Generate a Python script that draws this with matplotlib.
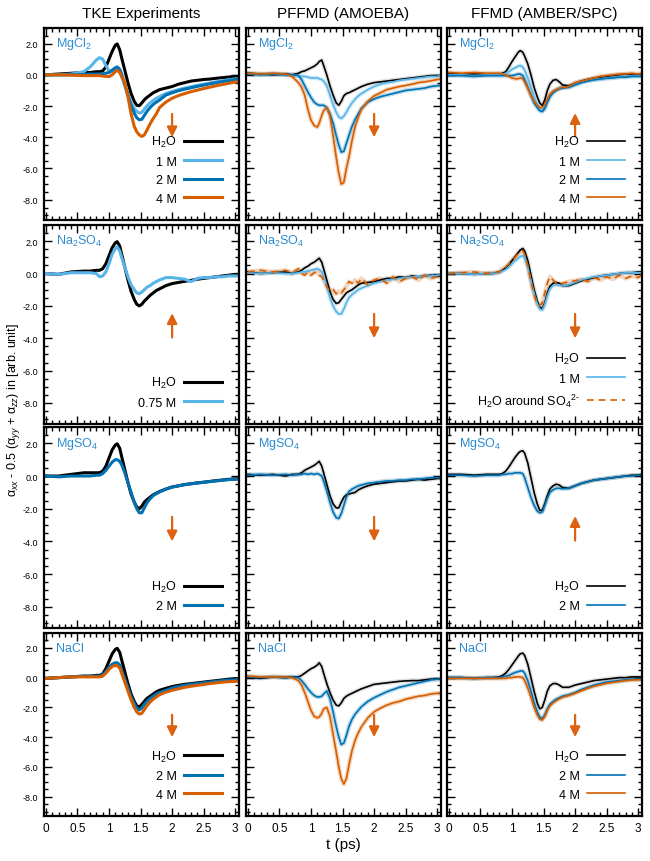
import numpy as np
import matplotlib
matplotlib.use("Agg")
import matplotlib.pyplot as plt
from matplotlib.ticker import MultipleLocator, FixedLocator, FixedFormatter, FormatStrFormatter

plt.rcParams['font.family'] = ['Liberation Sans', 'DejaVu Sans']
plt.rcParams['mathtext.fontset'] = 'custom'
plt.rcParams['mathtext.rm'] = 'Liberation Sans'
plt.rcParams['mathtext.it'] = 'Liberation Sans:italic'
plt.rcParams['mathtext.bf'] = 'Liberation Sans:bold'
plt.rcParams['axes.unicode_minus'] = False

# ---------------- data ----------------
T = [0.0, 0.2, 0.4, 0.6, 0.7, 0.8, 0.85, 0.9, 0.95, 1.0, 1.05, 1.1, 1.13, 1.17, 1.2,
     1.25, 1.3, 1.35, 1.4, 1.44, 1.48, 1.52, 1.56, 1.6, 1.65, 1.7, 1.75, 1.8, 1.9, 2.0,
     2.1, 2.2, 2.3, 2.4, 2.5, 2.6, 2.7, 2.8, 2.9, 3.0, 3.05]

col_titles = ["TKE Experiments", "PFFMD (AMOEBA)", "FFMD (AMBER/SPC)"]
salts = ["MgCl$_2$", "Na$_2$SO$_4$", "MgSO$_4$", "NaCl"]

# Row 1: MgCl2
mgcl2_tke_h2o = [0.0, 0.05, 0.1, 0.15, 0.15, 0.2, 0.2, 0.25, 0.5, 1.0, 1.5, 1.9, 1.98, 1.6, 1.1,
                 0.3, -0.5, -1.2, -1.7, -1.95, -1.98, -1.8, -1.6, -1.45, -1.3, -1.15, -1.05, -0.95, -0.85, -0.75,
                 -0.6, -0.5, -0.4, -0.35, -0.3, -0.27, -0.22, -0.18, -0.14, -0.1, -0.1]
mgcl2_tke_1m = [0.0, 0.0, 0.05, 0.2, 0.5, 0.95, 1.1, 1.0, 0.6, 0.25, 0.2, 0.4, 0.5, 0.3, -0.1,
                -0.7, -1.3, -1.8, -2.15, -2.35, -2.45, -2.4, -2.2, -2.0, -1.8, -1.65, -1.5, -1.4, -1.2, -1.07,
                -0.95, -0.85, -0.76, -0.68, -0.6, -0.52, -0.45, -0.38, -0.32, -0.26, -0.25]
mgcl2_tke_2m = [0.0, 0.0, 0.0, 0.02, 0.05, 0.05, 0.05, 0.08, 0.1, 0.15, 0.3, 0.45, 0.5, 0.35, 0.05,
                -0.6, -1.3, -1.95, -2.45, -2.75, -2.88, -2.85, -2.6, -2.35, -2.1, -1.9, -1.75, -1.62, -1.3, -1.15,
                -1.02, -0.92, -0.83, -0.74, -0.66, -0.58, -0.5, -0.43, -0.37, -0.3, -0.28]
mgcl2_tke_4m = [0.0, 0.0, -0.02, -0.05, -0.05, -0.05, -0.05, -0.08, -0.1, -0.12, 0.0, 0.2, 0.3, 0.15, -0.1,
                -0.5, -1.4, -2.5, -3.3, -3.65, -3.85, -3.95, -3.85, -3.55, -3.15, -2.8, -2.5, -2.1, -1.75, -1.5,
                -1.33, -1.2, -1.08, -0.98, -0.88, -0.79, -0.7, -0.62, -0.54, -0.46, -0.44]

mgcl2_pf_h2o = [0.1, 0.05, 0.0, 0.05, 0.0, 0.1, 0.2, 0.25, 0.35, 0.45, 0.55, 0.7, 0.85, 0.95, 0.6,
                0.0, -0.7, -1.3, -1.8, -1.95, -1.7, -1.35, -1.2, -1.15, -1.05, -0.95, -0.85, -0.75, -0.6, -0.5,
                -0.45, -0.4, -0.35, -0.3, -0.25, -0.2, -0.15, -0.1, -0.05, -0.05, -0.05]
mgcl2_pf_1m = [0.05, 0.0, 0.05, 0.0, 0.0, -0.05, -0.1, -0.1, -0.15, -0.2, -0.2, -0.2, -0.25, -0.3, -0.4,
               -0.7, -1.3, -1.9, -2.4, -2.7, -2.8, -2.65, -2.4, -2.1, -1.8, -1.55, -1.35, -1.2, -0.95, -0.75,
               -0.6, -0.5, -0.45, -0.35, -0.3, -0.25, -0.2, -0.15, -0.1, -0.1, -0.05]
mgcl2_pf_2m = [0.05, 0.0, 0.05, 0.0, 0.0, -0.05, -0.3, -0.7, -1.1, -1.45, -1.75, -1.9, -1.95, -1.95, -1.95,
               -2.1, -2.5, -3.1, -3.9, -4.5, -4.95, -4.9, -4.4, -3.9, -3.3, -2.85, -2.5, -2.15, -1.75, -1.55,
               -1.4, -1.3, -1.2, -1.1, -1.0, -0.95, -0.9, -0.85, -0.75, -0.7, -0.68]
mgcl2_pf_4m = [0.1, 0.05, 0.1, 0.05, -0.1, -0.5, -0.8, -1.3, -2.2, -2.9, -3.25, -3.35, -3.1, -2.6, -2.3,
               -2.1, -2.6, -3.9, -5.3, -6.3, -7.0, -6.9, -6.0, -5.3, -4.2, -3.3, -2.7, -2.2, -1.7, -1.35,
               -1.15, -0.95, -0.85, -0.75, -0.68, -0.6, -0.5, -0.45, -0.38, -0.3, -0.28]

mgcl2_ff_h2o = [0.1, 0.05, 0.05, 0.05, 0.05, 0.05, 0.1, 0.2, 0.5, 0.85, 1.15, 1.45, 1.55, 1.45, 1.2,
                0.7, 0.0, -0.8, -1.4, -1.8, -1.97, -1.6, -1.0, -0.6, -0.35, -0.3, -0.45, -0.65, -0.7, -0.55,
                -0.4, -0.3, -0.2, -0.15, -0.1, -0.05, 0.0, 0.05, 0.0, 0.0, 0.0]
mgcl2_ff_1m = [0.0, 0.0, -0.05, 0.0, 0.0, 0.0, 0.05, 0.1, 0.2, 0.35, 0.45, 0.55, 0.6, 0.5, 0.3,
               -0.2, -0.8, -1.4, -1.9, -2.2, -2.3, -2.1, -1.7, -1.35, -1.1, -0.95, -0.85, -0.8, -0.75, -0.6,
               -0.45, -0.35, -0.3, -0.25, -0.2, -0.15, -0.1, -0.1, -0.05, -0.05, -0.05]
mgcl2_ff_2m = [-0.05, -0.05, -0.1, -0.05, -0.05, -0.05, -0.05, -0.05, -0.05, -0.05, 0.0, 0.05, 0.05, -0.05, -0.3,
               -0.8, -1.3, -1.8, -2.1, -2.3, -2.35, -2.15, -1.75, -1.4, -1.15, -1.0, -0.9, -0.85, -0.8, -0.65,
               -0.5, -0.4, -0.32, -0.27, -0.22, -0.2, -0.15, -0.15, -0.1, -0.1, -0.1]
mgcl2_ff_4m = [0.15, 0.1, 0.15, 0.1, 0.1, 0.1, 0.05, 0.0, -0.1, -0.2, -0.25, -0.25, -0.2, -0.25, -0.45,
               -0.85, -1.3, -1.7, -1.95, -2.1, -2.1, -1.9, -1.55, -1.25, -1.05, -0.95, -0.85, -0.8, -0.75, -0.5,
               -0.4, -0.3, -0.2, -0.1, -0.05, 0.0, 0.05, 0.05, 0.1, 0.05, 0.1]

# Row 2: Na2SO4
na2so4_tke_h2o = [0.0, -0.05, 0.1, 0.15, 0.15, 0.2, 0.2, 0.3, 0.6, 1.1, 1.6, 1.9, 1.97, 1.7, 1.2,
                  0.4, -0.4, -1.1, -1.6, -1.9, -2.0, -1.9, -1.7, -1.55, -1.35, -1.2, -1.05, -0.95, -0.75, -0.62,
                  -0.55, -0.48, -0.42, -0.35, -0.3, -0.25, -0.2, -0.15, -0.1, -0.05, -0.05]
na2so4_tke_075m = [0.0, -0.05, 0.05, 0.05, 0.05, 0.0, -0.2, -0.15, 0.1, 0.6, 1.2, 1.55, 1.65, 1.4, 1.0,
                   0.4, -0.2, -0.7, -1.0, -1.2, -1.25, -1.15, -1.0, -0.85, -0.75, -0.6, -0.5, -0.4, -0.25, -0.25,
                   -0.3, -0.35, -0.5, -0.3, -0.25, -0.25, -0.2, -0.2, -0.15, -0.15, -0.15]

na2so4_pf_h2o = [0.1, 0.0, 0.05, 0.1, 0.0, 0.1, 0.2, 0.35, 0.45, 0.6, 0.7, 0.85, 0.95, 0.7, 0.3,
                 -0.4, -1.1, -1.6, -1.85, -1.8, -1.6, -1.4, -1.2, -1.1, -1.0, -0.85, -0.7, -0.6, -0.55, -0.5,
                 -0.4, -0.3, -0.3, -0.2, -0.25, -0.15, -0.2, -0.15, -0.1, -0.15, -0.15]
na2so4_pf_1m = [0.05, 0.0, 0.05, 0.0, 0.0, 0.05, 0.1, 0.1, 0.15, 0.2, 0.25, 0.3, 0.25, 0.1, -0.2,
                -0.8, -1.5, -2.0, -2.35, -2.5, -2.5, -2.2, -1.8, -1.5, -1.3, -1.15, -1.0, -0.9, -0.75, -0.6,
                -0.5, -0.4, -0.35, -0.3, -0.25, -0.2, -0.2, -0.15, -0.15, -0.1, -0.1]
na2so4_pf_so4 = [0.1, 0.2, 0.1, 0.2, 0.05, 0.3, 0.0, -0.1, 0.1, -0.1, 0.05, 0.1, -0.1, -0.2, -0.4,
                 -0.8, -1.1, -1.0, -1.25, -1.1, -1.2, -1.0, -0.8, -0.5, -0.6, -0.4, -0.6, -0.3, -0.7, -0.4,
                 -0.3, -0.6, -0.2, -0.5, -0.3, -0.2, -0.4, -0.1, -0.3, -0.2, -0.15]

na2so4_ff_h2o = [0.0, 0.0, -0.05, 0.0, 0.0, 0.1, 0.2, 0.35, 0.55, 0.8, 1.05, 1.3, 1.45, 1.55, 1.4,
                 0.8, -0.1, -1.0, -1.7, -2.1, -2.15, -1.8, -1.2, -0.8, -0.6, -0.55, -0.6, -0.75, -0.75, -0.6,
                 -0.45, -0.35, -0.25, -0.15, -0.1, -0.05, 0.0, 0.05, 0.05, 0.1, 0.1]
na2so4_ff_1m = [0.0, 0.0, -0.05, 0.0, 0.0, 0.05, 0.15, 0.25, 0.4, 0.6, 0.8, 0.95, 1.05, 1.1, 0.95,
                0.4, -0.4, -1.2, -1.85, -2.2, -2.25, -1.9, -1.35, -0.95, -0.75, -0.7, -0.7, -0.75, -0.7, -0.55,
                -0.4, -0.3, -0.2, -0.15, -0.1, -0.05, 0.0, 0.05, 0.05, 0.05, 0.05]
na2so4_ff_so4 = [0.0, 0.05, 0.1, 0.0, 0.05, 0.1, 0.3, 0.4, 0.6, 0.8, 1.0, 1.25, 1.35, 1.4, 1.2,
                 0.5, -0.5, -1.3, -1.9, -2.0, -1.8, -1.2, -0.6, -0.2, -0.4, -0.6, -0.7, -0.6, -0.5, -0.45,
                 -0.35, -0.5, -0.25, -0.4, -0.2, -0.35, -0.1, -0.3, -0.15, -0.25, -0.1]

# Row 3: MgSO4
mgso4_tke_h2o = [0.0, 0.0, 0.1, 0.2, 0.2, 0.2, 0.2, 0.3, 0.6, 1.1, 1.6, 1.9, 1.97, 1.7, 1.2,
                 0.4, -0.4, -1.1, -1.6, -1.9, -2.0, -1.85, -1.6, -1.45, -1.3, -1.15, -1.05, -0.95, -0.8, -0.67,
                 -0.6, -0.52, -0.47, -0.42, -0.38, -0.33, -0.28, -0.24, -0.2, -0.17, -0.17]
mgso4_tke_2m = [0.0, -0.05, 0.0, 0.0, 0.0, 0.05, 0.05, 0.15, 0.35, 0.6, 0.85, 1.0, 1.0, 0.9, 0.7,
                0.2, -0.4, -1.0, -1.6, -2.0, -2.25, -2.25, -1.95, -1.65, -1.4, -1.2, -1.08, -0.98, -0.8, -0.68,
                -0.6, -0.53, -0.48, -0.43, -0.38, -0.34, -0.3, -0.26, -0.22, -0.2, -0.2]

mgso4_pf_h2o = [0.1, 0.05, 0.1, 0.0, 0.1, 0.1, 0.2, 0.35, 0.45, 0.55, 0.65, 0.8, 0.9, 0.6, 0.2,
                -0.5, -1.2, -1.7, -1.95, -1.95, -1.6, -1.3, -1.15, -1.1, -1.05, -1.0, -0.85, -0.75, -0.6, -0.5,
                -0.45, -0.4, -0.35, -0.3, -0.3, -0.25, -0.2, -0.25, -0.2, -0.15, -0.15]
mgso4_pf_2m = [0.05, 0.1, 0.05, 0.1, 0.05, 0.1, 0.1, 0.15, 0.1, 0.15, 0.1, 0.15, 0.1, 0.0, -0.3,
               -0.9, -1.6, -2.2, -2.55, -2.6, -2.3, -1.8, -1.3, -0.95, -0.8, -0.7, -0.6, -0.55, -0.45, -0.4,
               -0.35, -0.3, -0.3, -0.25, -0.25, -0.2, -0.2, -0.15, -0.1, -0.1, -0.1]

mgso4_ff_h2o = [0.1, 0.1, 0.05, 0.1, 0.1, 0.1, 0.15, 0.3, 0.55, 0.85, 1.15, 1.4, 1.5, 1.55, 1.4,
                0.8, -0.1, -1.0, -1.7, -2.1, -2.1, -1.7, -1.2, -0.8, -0.6, -0.5, -0.55, -0.7, -0.75, -0.6,
                -0.45, -0.35, -0.25, -0.2, -0.15, -0.1, -0.05, 0.0, 0.05, 0.05, 0.1]
mgso4_ff_2m = [0.05, 0.05, 0.0, 0.05, 0.05, 0.05, 0.1, 0.1, 0.15, 0.15, 0.2, 0.2, 0.2, 0.15, -0.1,
               -0.7, -1.3, -1.8, -2.15, -2.25, -2.2, -1.8, -1.35, -1.0, -0.85, -0.75, -0.75, -0.78, -0.75, -0.6,
               -0.45, -0.35, -0.25, -0.2, -0.15, -0.1, -0.05, 0.0, 0.0, 0.05, 0.05]

# Row 4: NaCl
nacl_tke_h2o = [-0.05, 0.0, 0.05, 0.1, 0.1, 0.15, 0.15, 0.25, 0.6, 1.1, 1.6, 1.9, 1.97, 1.7, 1.2,
                0.4, -0.4, -1.1, -1.6, -1.9, -1.97, -1.8, -1.6, -1.4, -1.25, -1.1, -0.95, -0.85, -0.72, -0.6,
                -0.52, -0.45, -0.4, -0.35, -0.3, -0.25, -0.2, -0.15, -0.1, -0.07, -0.07]
nacl_tke_2m = [-0.05, 0.0, 0.05, 0.1, 0.1, 0.1, 0.1, 0.2, 0.4, 0.7, 0.9, 1.0, 1.0, 0.85, 0.5,
               -0.1, -0.7, -1.3, -1.75, -2.05, -2.17, -2.05, -1.8, -1.6, -1.4, -1.25, -1.1, -1.0, -0.85, -0.7,
               -0.6, -0.52, -0.45, -0.4, -0.35, -0.3, -0.25, -0.2, -0.17, -0.15, -0.15]
nacl_tke_4m = [-0.05, 0.0, 0.05, 0.05, 0.05, 0.05, 0.05, 0.1, 0.3, 0.55, 0.75, 0.82, 0.8, 0.65, 0.3,
               -0.3, -0.9, -1.5, -2.0, -2.3, -2.45, -2.4, -2.15, -1.9, -1.65, -1.45, -1.3, -1.15, -0.98, -0.85,
               -0.75, -0.65, -0.58, -0.52, -0.46, -0.4, -0.35, -0.3, -0.27, -0.25, -0.25]

nacl_pf_h2o = [0.0, -0.05, 0.05, 0.0, 0.05, 0.05, 0.15, 0.3, 0.45, 0.6, 0.7, 0.85, 1.0, 0.75, 0.3,
               -0.4, -1.0, -1.5, -1.85, -1.9, -1.7, -1.4, -1.25, -1.15, -1.05, -0.95, -0.85, -0.75, -0.6, -0.45,
               -0.4, -0.35, -0.3, -0.25, -0.22, -0.2, -0.2, -0.15, -0.1, -0.1, -0.1]
nacl_pf_2m = [0.05, 0.0, 0.05, 0.0, 0.05, 0.0, -0.2, -0.45, -0.75, -1.0, -1.2, -1.3, -1.3, -1.25, -1.1,
              -0.9, -1.4, -2.3, -3.3, -4.0, -4.5, -4.4, -3.9, -3.3, -2.8, -2.45, -2.2, -1.95, -1.6, -1.35,
              -1.15, -0.95, -0.8, -0.65, -0.55, -0.45, -0.35, -0.25, -0.15, -0.1, -0.1]
nacl_pf_4m = [0.1, 0.05, 0.05, 0.05, 0.0, -0.2, -0.5, -1.0, -1.6, -2.2, -2.6, -2.7, -2.65, -2.4, -2.1,
              -2.0, -2.6, -3.8, -5.0, -6.0, -6.8, -7.15, -6.8, -5.9, -4.9, -4.2, -3.7, -3.3, -2.7, -2.3,
              -2.05, -1.85, -1.7, -1.6, -1.45, -1.35, -1.25, -1.2, -1.1, -1.05, -1.05]

nacl_ff_h2o = [0.0, 0.0, -0.05, 0.0, 0.0, 0.05, 0.15, 0.3, 0.55, 0.85, 1.15, 1.45, 1.6, 1.65, 1.5,
               0.9, 0.0, -0.9, -1.7, -2.1, -2.0, -1.5, -0.9, -0.55, -0.4, -0.4, -0.5, -0.65, -0.65, -0.5,
               -0.4, -0.3, -0.2, -0.15, -0.1, -0.05, 0.0, 0.0, 0.05, 0.05, 0.05]
nacl_ff_2m = [0.0, 0.0, -0.05, 0.0, 0.0, 0.0, 0.05, 0.1, 0.15, 0.25, 0.35, 0.4, 0.45, 0.45, 0.3,
              -0.2, -0.9, -1.7, -2.3, -2.65, -2.75, -2.5, -2.1, -1.8, -1.6, -1.45, -1.35, -1.25, -1.15, -1.0,
              -0.8, -0.65, -0.5, -0.4, -0.3, -0.25, -0.2, -0.15, -0.1, -0.1, -0.1]
nacl_ff_4m = [-0.05, -0.05, -0.05, -0.05, -0.05, -0.05, -0.05, -0.05, 0.0, 0.0, 0.05, 0.05, 0.05, 0.0, -0.2,
              -0.7, -1.3, -2.0, -2.5, -2.8, -2.85, -2.6, -2.2, -1.9, -1.7, -1.55, -1.42, -1.32, -1.2, -1.05,
              -0.88, -0.72, -0.58, -0.48, -0.38, -0.32, -0.26, -0.2, -0.16, -0.14, -0.14]

BLACK, LBLUE, BLUE, ORANGE = '#000000', '#56B4E9', '#0072B2', '#D55E00'
SALT_COLOR = '#2a8bd0'
ARROW_COLOR = '#DD6210'
SO4_LABEL = r'H$_2$O around SO$_4$$^{2\text{-}}$'

# (label, data, color, dashed)
panels = [
    [  # MgCl2
        [("H$_2$O", mgcl2_tke_h2o, BLACK, False), ("1 M", mgcl2_tke_1m, LBLUE, False),
         ("2 M", mgcl2_tke_2m, BLUE, False), ("4 M", mgcl2_tke_4m, ORANGE, False)],
        [("H$_2$O", mgcl2_pf_h2o, BLACK, False), ("1 M", mgcl2_pf_1m, LBLUE, False),
         ("2 M", mgcl2_pf_2m, BLUE, False), ("4 M", mgcl2_pf_4m, ORANGE, False)],
        [("H$_2$O", mgcl2_ff_h2o, BLACK, False), ("1 M", mgcl2_ff_1m, LBLUE, False),
         ("2 M", mgcl2_ff_2m, BLUE, False), ("4 M", mgcl2_ff_4m, ORANGE, False)],
    ],
    [  # Na2SO4
        [("H$_2$O", na2so4_tke_h2o, BLACK, False), ("0.75 M", na2so4_tke_075m, LBLUE, False)],
        [("H$_2$O", na2so4_pf_h2o, BLACK, False), ("1 M", na2so4_pf_1m, LBLUE, False),
         (SO4_LABEL, na2so4_pf_so4, ORANGE, True)],
        [("H$_2$O", na2so4_ff_h2o, BLACK, False), ("1 M", na2so4_ff_1m, LBLUE, False),
         (SO4_LABEL, na2so4_ff_so4, ORANGE, True)],
    ],
    [  # MgSO4
        [("H$_2$O", mgso4_tke_h2o, BLACK, False), ("2 M", mgso4_tke_2m, BLUE, False)],
        [("H$_2$O", mgso4_pf_h2o, BLACK, False), ("2 M", mgso4_pf_2m, BLUE, False)],
        [("H$_2$O", mgso4_ff_h2o, BLACK, False), ("2 M", mgso4_ff_2m, BLUE, False)],
    ],
    [  # NaCl
        [("H$_2$O", nacl_tke_h2o, BLACK, False), ("2 M", nacl_tke_2m, BLUE, False),
         ("4 M", nacl_tke_4m, ORANGE, False)],
        [("H$_2$O", nacl_pf_h2o, BLACK, False), ("2 M", nacl_pf_2m, BLUE, False),
         ("4 M", nacl_pf_4m, ORANGE, False)],
        [("H$_2$O", nacl_ff_h2o, BLACK, False), ("2 M", nacl_ff_2m, BLUE, False),
         ("4 M", nacl_ff_4m, ORANGE, False)],
    ],
]
show_legend = [True, False, True]   # per column
arrow_up = [[False, False, True], [True, False, False], [False, False, True], [False, False, False]]

# ---------------- layout ----------------
W, H = 650, 862
fig = plt.figure(figsize=(W / 100, H / 100), dpi=100)
col_left = [44, 246, 447]
col_w = 195
row_top = [29, 226, 428, 634]
row_bot = [221, 425, 629, 817]

xt = [0, 0.5, 1, 1.5, 2, 2.5, 3]
xtl = ['0', '0.5', '1', '1.5', '2', '2.5', '3']

for r in range(4):
    for c in range(3):
        ax = fig.add_axes([col_left[c] / W, 1 - row_bot[r] / H, col_w / W, (row_bot[r] - row_top[r]) / H])
        sim = c > 0
        for (lab, y, colr, dashed) in panels[r][c]:
            if sim:
                halo = '#888888' if colr == BLACK else colr
                ax.plot(T, y, color=halo, lw=3.2, alpha=0.25, solid_joinstyle='round', zorder=1)
                ax.plot(T, y, color=colr, lw=1.2, ls=(0, (4, 3)) if dashed else '-', label=lab, zorder=2)
            else:
                ax.plot(T, y, color=colr, lw=2.2, label=lab, zorder=2)
        ax.set_xlim(-0.03, 3.06)
        ax.set_ylim(-9.3, 3.0)
        ax.xaxis.set_major_locator(FixedLocator(xt))
        ax.xaxis.set_minor_locator(MultipleLocator(0.1))
        ax.yaxis.set_major_locator(MultipleLocator(2.0))
        ax.yaxis.set_minor_locator(MultipleLocator(0.5))
        ax.tick_params(which='both', direction='in', top=True, right=True, width=1.0)
        ax.tick_params(which='major', length=5.5)
        ax.tick_params(which='minor', length=2.8)
        for s in ax.spines.values():
            s.set_linewidth(1.6)
        if c == 0:
            ax.set_yticks([-8, -6, -4, -2, 0, 2])
            ax.yaxis.set_major_formatter(FormatStrFormatter('%.1f'))
            ax.tick_params(axis='y', labelsize=6.5, pad=4)
        else:
            ax.set_yticklabels([])
        if r == 3:
            ax.xaxis.set_major_formatter(FixedFormatter(xtl))
            ax.tick_params(axis='x', labelsize=8.5, pad=4)
        else:
            ax.set_xticklabels([])
        ax.text(0.06, 0.92, salts[r], transform=ax.transAxes, color=SALT_COLOR,
                fontsize=9, ha='left', va='center')
        if show_legend[c]:
            ax.legend(loc='lower right', frameon=False, markerfirst=False, fontsize=9,
                      handlelength=3.0, handletextpad=0.6, labelspacing=0.52,
                      borderaxespad=0.6, bbox_to_anchor=(0.975, 0.015))
        if arrow_up[r][c]:
            ax.annotate('', xy=(2.0, -2.45), xytext=(2.0, -3.95),
                        arrowprops=dict(arrowstyle='-|>,head_width=0.3,head_length=0.6', color=ARROW_COLOR,
                                        lw=1.6, shrinkA=0, shrinkB=0, mutation_scale=10))
        else:
            ax.annotate('', xy=(2.0, -4.0), xytext=(2.0, -2.5),
                        arrowprops=dict(arrowstyle='-|>,head_width=0.3,head_length=0.6', color=ARROW_COLOR,
                                        lw=1.6, shrinkA=0, shrinkB=0, mutation_scale=10))
        if r == 0:
            ax.set_title(col_titles[c], fontsize=11, pad=8)

fig.text(343 / W, 1 - 845 / H, 't (ps)', ha='center', va='center', fontsize=11)
fig.text(14 / W, 1 - 410 / H, 'α$_{xx}$ - 0.5 (α$_{yy}$ + α$_{zz}$) in [arb. unit]', rotation=90,
         ha='center', va='center', fontsize=9)

fig.savefig('out.png', dpi=100)
